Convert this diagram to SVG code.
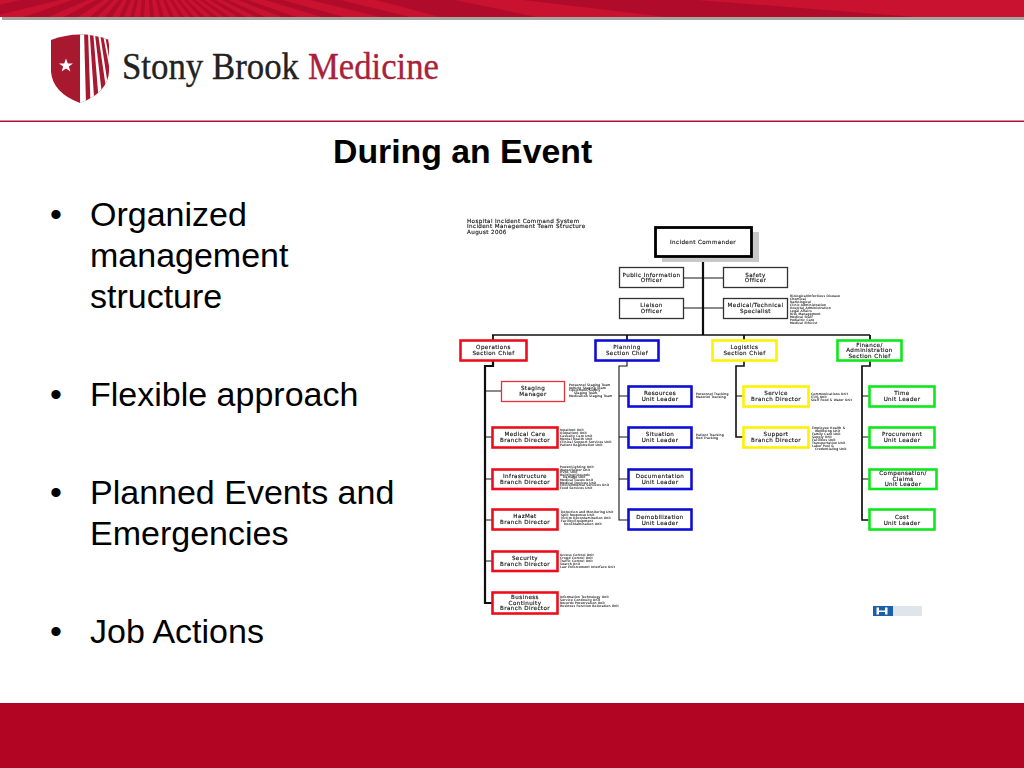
<svg xmlns="http://www.w3.org/2000/svg" width="1024" height="768" viewBox="0 0 1024 768">
<style>
.body{font-family:"Liberation Sans",Arial,sans-serif;font-size:34px;fill:#000}
.lab{font-family:"DejaVu Sans",sans-serif;font-size:5.6px;letter-spacing:.4px;fill:#111;text-anchor:middle;stroke:#111;stroke-width:.14}
.sm{font-family:"DejaVu Sans",sans-serif;font-size:3.1px;letter-spacing:.2px;fill:#111;stroke:#111;stroke-width:.08}
.hd{font-family:"DejaVu Sans",sans-serif;font-size:5.6px;letter-spacing:.38px;fill:#111;stroke:#111;stroke-width:.14}
.box{fill:#fff}
.off{stroke:#333;stroke-width:1.3}
.r{stroke:#ee0f1c;stroke-width:2.6}
.b{stroke:#0f0fd8;stroke-width:2.6}
.y{stroke:#fff200;stroke-width:2.6}
.g{stroke:#0ce81c;stroke-width:2.6}
.con{fill:none;stroke:#111}
.ray{fill:#b00b2a}
</style>
<defs>
<filter id="soft" x="-2%" y="-2%" width="104%" height="104%"><feGaussianBlur stdDeviation="0.5"/></filter>
<clipPath id="shieldClip"><path d="M51 40Q80 29 109 40L109 72Q107 93 80 103Q53 93 51 72Z"/></clipPath>
</defs>
<rect width="1024" height="768" fill="#fff"/>
<g id="header-band">
<rect x="2" y="17" width="1022" height="3" fill="#a5a5a0"/>
<rect width="1024" height="17" fill="#c8122f"/>
<path class="ray" d="M20 0H60L-10 17H-50ZM72 0H88L48 17H24ZM96 0H104L78 17H64ZM110 0H114L97 17H90ZM119 0H123L112 17H105ZM127 0H131L124 17H119ZM135 0H138L134 17H130ZM142 0H145L144 17H140ZM149 0H152L154 17H150ZM156 0H159L164 17H160ZM163 0H166L174 17H170ZM170 0H173L184 17H180ZM177 0H180L194 17H190ZM184 0H187L205 17H200ZM192 0H195L217 17H212ZM200 0H204L230 17H224ZM210 0H215L246 17H238ZM222 0H228L266 17H256ZM238 0H248L296 17H282ZM265 0H282L344 17H322ZM310 0H340L410 17H380ZM376 0H455L536 17H440ZM523 0H696L915 17H667Z"/>
</g>
<g id="logo">
<path d="M51 40Q80 29 109 40L109 72Q107 93 80 103Q53 93 51 72Z" fill="#a8182f"/>
<g clip-path="url(#shieldClip)">
<rect x="80" y="28" width="32" height="78" fill="#fff"/>
<path fill="#a8182f" d="M84 30H88L90.5 104H86ZM89.5 30H93L99 104H94.5ZM94.5 30H97.5L107 95H102ZM99.5 30H102L113 86H108ZM104 30H106.5L113 68H111Z"/>
</g>
<polygon points="66,58.5 67.8,63.5 73,63.5 68.8,66.6 70.4,71.6 66,68.6 61.6,71.6 63.2,66.6 59,63.5 64.2,63.5" fill="#fff"/>
<text x="122" y="79" font-family="Liberation Serif,serif" font-size="38" fill="#222" stroke="#222" stroke-width=".35" textLength="177" lengthAdjust="spacingAndGlyphs">Stony Brook</text>
<text x="308" y="79" font-family="Liberation Serif,serif" font-size="38" fill="#a8233a" stroke="#a8233a" stroke-width=".35" textLength="131" lengthAdjust="spacingAndGlyphs">Medicine</text>
</g>
<rect id="rule" y="120.5" width="1024" height="1.5" fill="#b3122f"/>
<text id="title" x="333" y="163" font-family="Liberation Sans,Arial,sans-serif" font-weight="700" font-size="33.8" fill="#000">During an Event</text>
<g id="bullets" class="body">
<text x="50" y="226">•</text><text x="90" y="226">Organized</text>
<text x="90" y="267">management</text>
<text x="90" y="308">structure</text>
<text x="50" y="406">•</text><text x="90" y="406">Flexible approach</text>
<text x="50" y="504">•</text><text x="90" y="504">Planned Events and</text>
<text x="90" y="545">Emergencies</text>
<text x="50" y="643">•</text><text x="90" y="643">Job Actions</text>
</g>
<g id="chart" filter="url(#soft)">
<g id="chart-title" class="hd">
<text x="467" y="222.8">Hospital Incident Command System</text>
<text x="467" y="228.4">Incident Management Team Structure</text>
<text x="467" y="234">August 2006</text>
</g>
<g id="connectors" class="con">
<path stroke-width="2.2" d="M703 257V335"/>
<path stroke-width="1.2" d="M684 278H723M684 308H723"/>
<path stroke-width="1.4" d="M492 335H870"/>
<path stroke-width="1.8" d="M493 335V340M627 335V340M744 335V340M870 335V340"/>
<path stroke-width="2.2" d="M493 361V366H485V603H492"/>
<path stroke-width="1.1" d="M627 361V366H619V520H628"/>
<path stroke-width="1.6" d="M744 361V366H736V437H743"/>
<path stroke-width="1.7" d="M870 361V366H862V520H869"/>
<path stroke-width="1.1" d="M485 391H501M485 437H492M485 479H492M485 520H492M485 561H492M619 396H628M619 437H628M619 479H628M736 396H743M862 396H869M862 437H869M862 479H869"/>
</g>
<g id="incident-commander">
<rect x="662" y="232" width="97" height="30" fill="#c8c8c8"/>
<rect class="box" x="655.5" y="227.5" width="96" height="29" stroke="#000" stroke-width="2.8"/>
<text class="lab" x="703" y="244">Incident Commander</text>
</g>
<g id="public-information-officer">
<rect class="box off" x="619.5" y="267.5" width="64" height="20"/>
<text class="lab" x="651.5" y="276.5">Public Information</text><text class="lab" x="651.5" y="282">Officer</text>
</g>
<g id="safety-officer">
<rect class="box off" x="723.5" y="267.5" width="64" height="20"/>
<text class="lab" x="755.5" y="276.5">Safety</text><text class="lab" x="755.5" y="282">Officer</text>
</g>
<g id="liaison-officer">
<rect class="box off" x="619.5" y="298.5" width="64" height="20"/>
<text class="lab" x="651.5" y="307">Liaison</text><text class="lab" x="651.5" y="312.5">Officer</text>
</g>
<g id="medical-technical-specialist">
<rect class="box off" x="723.5" y="298.5" width="64" height="20"/>
<text class="lab" x="755.5" y="307">Medical/Technical</text><text class="lab" x="755.5" y="312.5">Specialist</text>
<g class="sm"><text x="790" y="297">Biological/Infectious Disease</text><text x="790" y="300">Chemical</text><text x="790" y="303">Radiological</text><text x="790" y="306">Clinic Administration</text><text x="790" y="309">Hospital Administration</text><text x="790" y="312">Legal Affairs</text><text x="790" y="315">Risk Management</text><text x="790" y="318">Medical Staff</text><text x="790" y="321">Pediatric Care</text><text x="790" y="324">Medical Ethicist</text></g>
</g>
<g id="operations-section-chief">
<rect class="box r" x="460.5" y="340.5" width="66" height="20"/>
<text class="lab" x="493.5" y="349">Operations</text><text class="lab" x="493.5" y="354.5">Section Chief</text>
</g>
<g id="planning-section-chief">
<rect class="box b" x="595.5" y="340.5" width="63" height="20"/>
<text class="lab" x="627" y="349">Planning</text><text class="lab" x="627" y="354.5">Section Chief</text>
</g>
<g id="logistics-section-chief">
<rect class="box y" x="712.5" y="340.5" width="64" height="20"/>
<text class="lab" x="744.5" y="349">Logistics</text><text class="lab" x="744.5" y="354.5">Section Chief</text>
</g>
<g id="finance-section-chief">
<rect class="box g" x="837.5" y="340.5" width="64" height="20"/>
<text class="lab" x="869.5" y="346.5">Finance/</text><text class="lab" x="869.5" y="352">Administration</text><text class="lab" x="869.5" y="357.5">Section Chief</text>
</g>
<g id="staging-manager">
<rect class="box" x="501.5" y="381.5" width="63" height="20" stroke="#e8303a" stroke-width="1.3"/>
<text class="lab" x="533" y="390">Staging</text><text class="lab" x="533" y="395.5">Manager</text>
<g class="sm"><text x="569" y="386">Personnel Staging Team</text><text x="569" y="388.6">Vehicle Staging Team</text><text x="569" y="391.2">Equipment/Supply</text><text x="574" y="393.8">Staging Team</text><text x="569" y="396.6">Medication Staging Team</text></g>
</g>
<g id="medical-care-branch">
<rect class="box r" x="492.5" y="427.5" width="65" height="20"/>
<text class="lab" x="525" y="436">Medical Care</text><text class="lab" x="525" y="441.5">Branch Director</text>
<g class="sm"><text x="560" y="431">Inpatient Unit</text><text x="560" y="434">Outpatient Unit</text><text x="560" y="437">Casualty Care Unit</text><text x="560" y="440">Mental Health Unit</text><text x="560" y="443">Clinical Support Services Unit</text><text x="560" y="446">Patient Registration Unit</text></g>
</g>
<g id="infrastructure-branch">
<rect class="box r" x="492.5" y="469.5" width="65" height="19.5"/>
<text class="lab" x="525" y="478">Infrastructure</text><text class="lab" x="525" y="483.5">Branch Director</text>
<g class="sm"><text x="560" y="468">Power/Lighting Unit</text><text x="560" y="470.6">Water/Sewer Unit</text><text x="560" y="473.2">HVAC Unit</text><text x="560" y="475.8">Building/Grounds</text><text x="563" y="478.4">Damage Unit</text><text x="560" y="481">Medical Gases Unit</text><text x="560" y="483.6">Medical Devices Unit</text><text x="560" y="486.2">Environmental Services Unit</text><text x="560" y="489">Food Services Unit</text></g>
</g>
<g id="hazmat-branch">
<rect class="box r" x="492.5" y="509.5" width="65" height="20"/>
<text class="lab" x="525" y="518">HazMat</text><text class="lab" x="525" y="523.5">Branch Director</text>
<g class="sm"><text x="561" y="513">Detection and Monitoring Unit</text><text x="561" y="516">Spill Response Unit</text><text x="561" y="519">Victim Decontamination Unit</text><text x="561" y="522">Facility/Equipment</text><text x="564" y="525">Decontamination Unit</text></g>
</g>
<g id="security-branch">
<rect class="box r" x="492.5" y="551.5" width="65" height="19.5"/>
<text class="lab" x="525" y="560">Security</text><text class="lab" x="525" y="565.5">Branch Director</text>
<g class="sm"><text x="560" y="555.5">Access Control Unit</text><text x="560" y="558.6">Crowd Control Unit</text><text x="560" y="561.8">Traffic Control Unit</text><text x="560" y="564.9">Search Unit</text><text x="560" y="568">Law Enforcement Interface Unit</text></g>
</g>
<g id="business-continuity-branch">
<rect class="box r" x="492.5" y="592.5" width="65" height="21"/>
<text class="lab" x="525" y="599">Business</text><text class="lab" x="525" y="604.5">Continuity</text><text class="lab" x="525" y="610">Branch Director</text>
<g class="sm"><text x="560" y="598">Information Technology Unit</text><text x="560" y="601">Service Continuity Unit</text><text x="560" y="604">Records Preservation Unit</text><text x="560" y="607">Business Function Relocation Unit</text></g>
</g>
<g id="resources-unit">
<rect class="box b" x="628.5" y="386.5" width="63" height="20"/>
<text class="lab" x="660" y="395">Resources</text><text class="lab" x="660" y="400.5">Unit Leader</text>
<g class="sm"><text x="696" y="395">Personnel Tracking</text><text x="696" y="398">Materiel Tracking</text></g>
</g>
<g id="situation-unit">
<rect class="box b" x="628.5" y="427.5" width="63" height="20"/>
<text class="lab" x="660" y="436">Situation</text><text class="lab" x="660" y="441.5">Unit Leader</text>
<g class="sm"><text x="696" y="436">Patient Tracking</text><text x="696" y="439">Bed Tracking</text></g>
</g>
<g id="documentation-unit">
<rect class="box b" x="628.5" y="469.5" width="63" height="19.5"/>
<text class="lab" x="660" y="478">Documentation</text><text class="lab" x="660" y="483.5">Unit Leader</text>
</g>
<g id="demobilization-unit">
<rect class="box b" x="628.5" y="509.5" width="63" height="20"/>
<text class="lab" x="660" y="519">Demobilization</text><text class="lab" x="660" y="524.5">Unit Leader</text>
</g>
<g id="service-branch">
<rect class="box y" x="743.5" y="386.5" width="65" height="20"/>
<text class="lab" x="776" y="395">Service</text><text class="lab" x="776" y="400.5">Branch Director</text>
<g class="sm"><text x="811" y="394.5">Communications Unit</text><text x="811" y="397.5">IT/IS Unit</text><text x="811" y="400.5">Staff Food &amp; Water Unit</text></g>
</g>
<g id="support-branch">
<rect class="box y" x="743.5" y="427.5" width="65" height="20"/>
<text class="lab" x="776" y="436">Support</text><text class="lab" x="776" y="441.5">Branch Director</text>
<g class="sm"><text x="812" y="428.5">Employee Health &amp;</text><text x="815" y="431.5">Wellbeing Unit</text><text x="812" y="434.5">Family Care Unit</text><text x="812" y="437.5">Supply Unit</text><text x="812" y="440.5">Facilities Unit</text><text x="812" y="443.5">Transportation Unit</text><text x="812" y="446.5">Labor Pool &amp;</text><text x="815" y="449.5">Credentialing Unit</text></g>
</g>
<g id="time-unit">
<rect class="box g" x="869.5" y="386.5" width="65" height="20"/>
<text class="lab" x="902" y="395">Time</text><text class="lab" x="902" y="400.5">Unit Leader</text>
</g>
<g id="procurement-unit">
<rect class="box g" x="869.5" y="427.5" width="65" height="20"/>
<text class="lab" x="902" y="436">Procurement</text><text class="lab" x="902" y="441.5">Unit Leader</text>
</g>
<g id="compensation-unit">
<rect class="box g" x="869.5" y="469.5" width="67" height="19.5"/>
<text class="lab" x="903" y="475">Compensation/</text><text class="lab" x="903" y="480.5">Claims</text><text class="lab" x="903" y="486">Unit Leader</text>
</g>
<g id="cost-unit">
<rect class="box g" x="869.5" y="509.5" width="65" height="20"/>
<text class="lab" x="902" y="519">Cost</text><text class="lab" x="902" y="524.5">Unit Leader</text>
</g>
<g id="hics-logo">
<rect x="873" y="606" width="20" height="10" fill="#1f5fa8"/>
<path d="M876.5 607.5h2.5v3h6v-3h2.5v7h-2.5v-2.5h-6v2.5h-2.5z" fill="#fff"/>
<rect x="893" y="606" width="29" height="10" fill="#c9d3dc" opacity=".6"/>
</g>
</g>
<rect id="footer-band" y="703" width="1024" height="65" fill="#b20523"/>
</svg>
